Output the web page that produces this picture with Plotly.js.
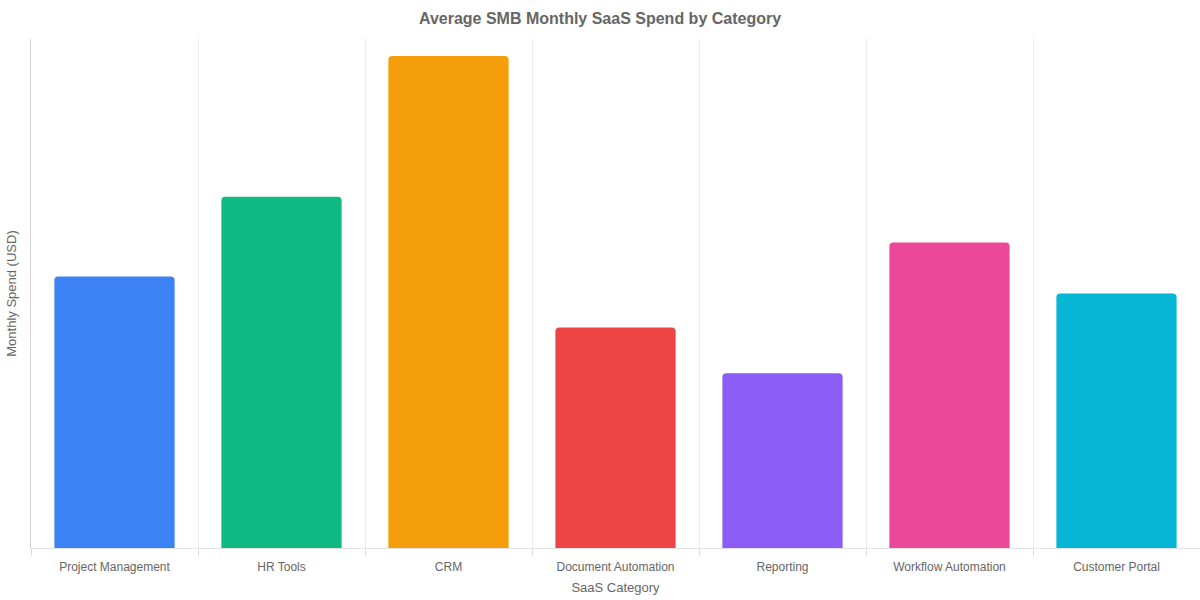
<!DOCTYPE html>
<html>
<head>
<meta charset="utf-8">
<script src="https://cdn.plot.ly/plotly-3.0.1.min.js"></script>
<style>html,body{margin:0;padding:0;background:#fff;}#chart{width:1200px;height:600px;}</style>
</head>
<body>
<div id="chart"></div>
<script>
const categories = ["Project Management", "HR Tools", "CRM", "Document Automation", "Reporting", "Workflow Automation", "Customer Portal"];
const monthlySpend = [800, 1035, 1450, 650, 515, 900, 750];
const barColors = ["#3b82f6", "#10b981", "#f59e0b", "#ef4444", "#8b5cf6", "#ec4899", "#06b6d4"];

const trace = {
  type: "bar",
  x: categories,
  y: monthlySpend,
  marker: { color: barColors, line: { width: 0 }, cornerradius: 4 },
  hoverinfo: "x+y"
};

const layout = {
  width: 1200,
  height: 600,
  paper_bgcolor: "#ffffff",
  plot_bgcolor: "#ffffff",
  font: { family: "Liberation Sans, Arial, sans-serif", color: "#666666", size: 12 },
  title: {
    text: "<b>Average SMB Monthly SaaS Spend by Category</b>",
    font: { size: 16, color: "#666666" },
    x: 0.5, xanchor: "center",
    y: 0.97, yanchor: "middle", yref: "container"
  },
  margin: { l: 31, r: 0, t: 39, b: 52 },
  bargap: 0.28,
  showlegend: false,
  xaxis: {
    title: { text: "SaaS Category", font: { size: 13, color: "#666666" }, standoff: 9 },
    tickson: "boundaries",
    ticks: "outside",
    ticklen: 7,
    tickcolor: "#dddddd",
    ticklabelstandoff: 8,
    showgrid: true,
    gridcolor: "#ebebeb",
    showline: true,
    linecolor: "#e3e3e3",
    tickfont: { size: 12, color: "#666666" },
    automargin: false
  },
  yaxis: {
    title: { text: "Monthly Spend (USD)", font: { size: 13, color: "#666666" }, standoff: 10 },
    range: [0, 1500],
    showticklabels: false,
    showgrid: false,
    zeroline: false,
    showline: true,
    linecolor: "#d4d4d4",
    ticks: "",
    automargin: false
  }
};

Plotly.newPlot("chart", [trace], layout, { displayModeBar: false, staticPlot: true });
</script>
</body>
</html>
